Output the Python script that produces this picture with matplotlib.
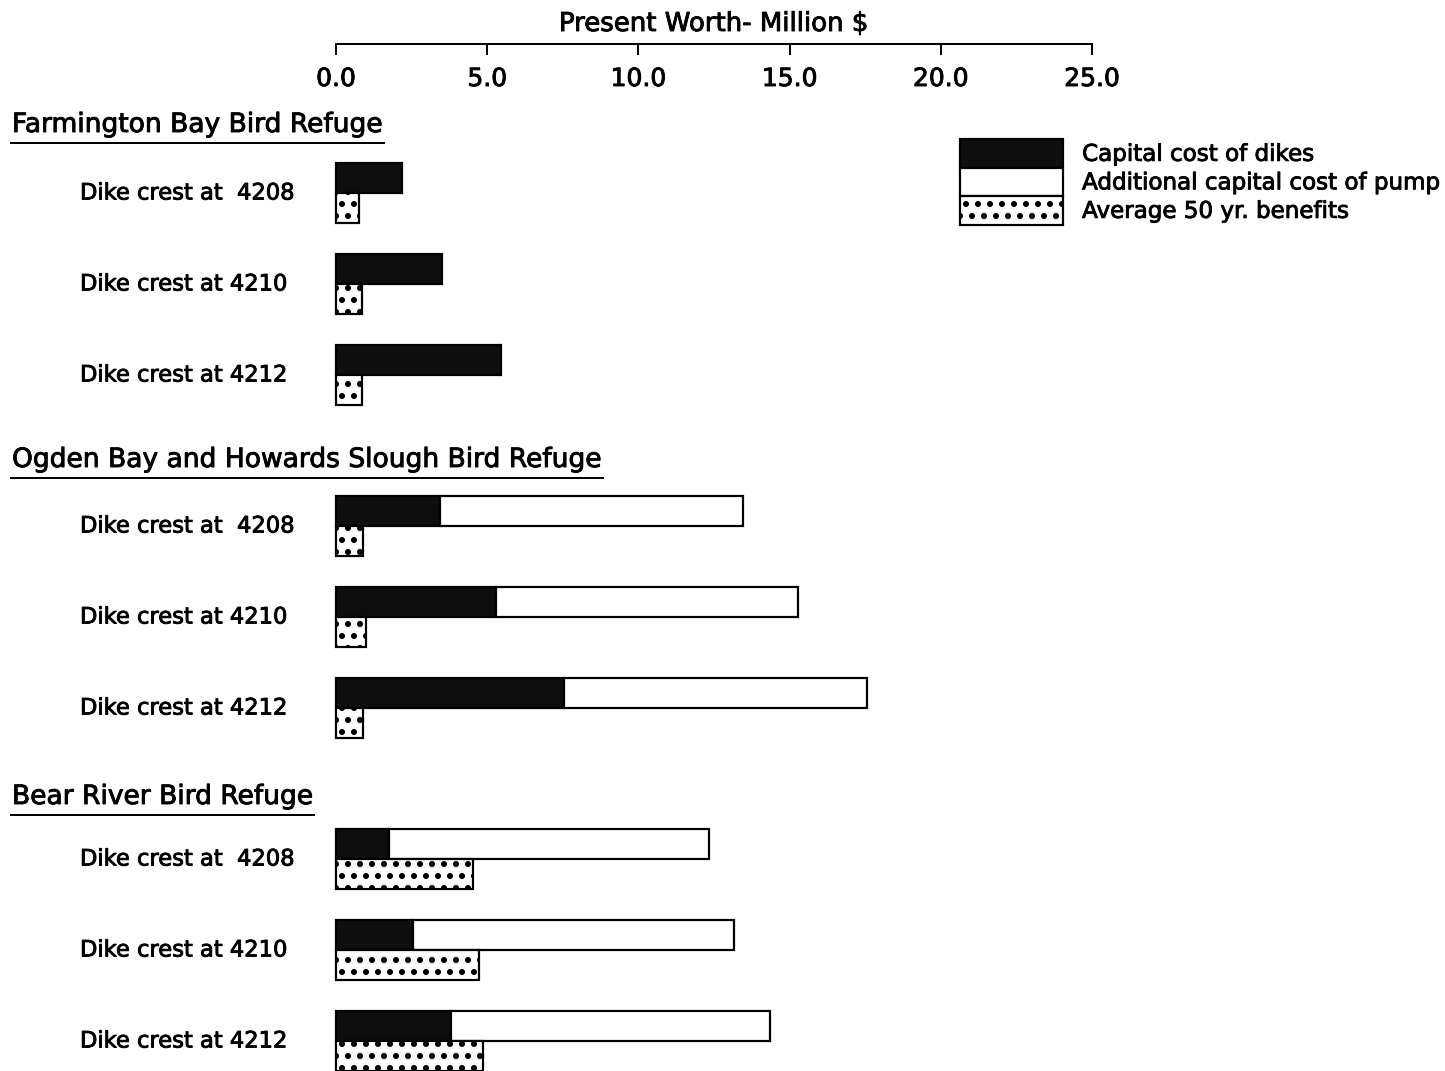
import matplotlib
matplotlib.use("Agg")
import matplotlib.pyplot as plt
import matplotlib.patheffects as pe

# ---- data (present worth, million $) ----
refuges = [
    "Farmington Bay Bird Refuge",
    "Ogden Bay and Howards Slough Bird Refuge",
    "Bear River Bird Refuge",
]
crests = ["Dike crest at  4208", "Dike crest at 4210", "Dike crest at 4212"]
dike_cost = [
    [2.17, 3.50, 5.46],
    [3.45, 5.29, 7.53],
    [1.76, 2.56, 3.80],
]
pump_cost = [
    [0.00, 0.00, 0.00],
    [10.02, 9.98, 10.04],
    [10.59, 10.61, 10.55],
]
benefits = [
    [0.77, 0.85, 0.87],
    [0.88, 1.00, 0.88],
    [4.54, 4.74, 4.87],
]
tick_values = [0, 5, 10, 15, 20, 25]
tick_labels = ["0.0", "5.0", "10.0", "15.0", "20.0", "25.0"]
series_labels = [
    "Capital cost of dikes",
    "Additional capital cost of pump",
    "Average 50 yr. benefits",
]
axis_title = "Present Worth- Million $"

# ---- figure geometry ----
W, H, DPI = 1445, 1071, 72
plt.rcParams["font.family"] = ["DejaVu Sans"]
plt.rcParams["hatch.linewidth"] = 3.6
plt.rcParams["hatch.color"] = "black"

# slightly heavier strokes for all lettering
heavy = [pe.withStroke(linewidth=0.9, foreground="black")]

fig = plt.figure(figsize=(W / DPI, H / DPI), dpi=DPI)
ax = fig.add_axes([0, 0, 1, 1])

X0_PX, X25_PX = 336, 1092
scale = (X25_PX - X0_PX) / 25.0


def px2x(px):
    return (px - X0_PX) / scale


ax.set_xlim(px2x(0), px2x(W))
ax.set_ylim(H, 0)

AXIS_Y = 44
FIRST_ROW = 163
ROW_PITCH = 91
GROUP_GAP = 60
BAR_H = 30
HEAD_OFFSET = [38, 36, 32]

dark = "#0e0e0e"
lw = 2.2
handles = [None, None, None]
headings = []

for g, name in enumerate(refuges):
    top0 = FIRST_ROW + g * (3 * ROW_PITCH + GROUP_GAP)
    ht = ax.text(px2x(12), top0 - HEAD_OFFSET[g], name, ha="left",
                 va="center", fontsize=26.5, color="black", path_effects=heavy)
    headings.append(ht)
    for r in range(3):
        top = top0 + r * ROW_PITCH
        b1 = ax.barh(top + BAR_H / 2, dike_cost[g][r], height=BAR_H, left=0,
                     color=dark, edgecolor="black", linewidth=lw)
        handles[0] = b1
        if pump_cost[g][r] > 0:
            b2 = ax.barh(top + BAR_H / 2, pump_cost[g][r], height=BAR_H,
                         left=dike_cost[g][r], color="white",
                         edgecolor="black", linewidth=lw)
            handles[1] = b2
        b3 = ax.barh(top + BAR_H + BAR_H / 2, benefits[g][r], height=BAR_H,
                     left=0, color="white", edgecolor="black", linewidth=lw,
                     hatch=".")
        handles[2] = b3
        ax.text(px2x(80), top + BAR_H, crests[r], ha="left", va="center",
                fontsize=22.6, color="black", path_effects=heavy)

# underline each refuge heading to the width of its text
fig.canvas.draw()
renderer = fig.canvas.get_renderer()
inv = ax.transData.inverted()
for t in headings:
    bb = t.get_window_extent(renderer)
    (xl, _), (xr, _) = inv.transform([(bb.x0 - 2, 0), (bb.x1 + 2, 0)])
    y_line = t.get_position()[1] + 18
    ax.plot([xl, xr], [y_line, y_line], color="black", linewidth=2.0,
            solid_capstyle="butt")

# value axis drawn across the top
for side in ["left", "right", "bottom"]:
    ax.spines[side].set_visible(False)
ax.spines["top"].set_position(("data", AXIS_Y))
ax.spines["top"].set_bounds(0, 25)
ax.spines["top"].set_linewidth(2.0)
ax.xaxis.set_ticks_position("top")
ax.set_xticks(tick_values)
ax.set_xticklabels(tick_labels)
ax.tick_params(axis="x", direction="in", length=11, width=2.0,
               labelsize=25, pad=-47)
for lab in ax.get_xticklabels():
    lab.set_path_effects(heavy)
ax.set_yticks([])
ax.text(12.5, 24, axis_title, ha="center", va="center", fontsize=26,
        path_effects=heavy)

fs_leg = 23
leg = ax.legend(handles=handles, labels=series_labels, loc="upper left",
                bbox_to_anchor=(960 / W, 1 - 139 / H),
                bbox_transform=fig.transFigure, frameon=False,
                borderpad=0, borderaxespad=0, handlelength=103 / fs_leg,
                handleheight=1.53, handletextpad=0.83, labelspacing=0,
                fontsize=fs_leg)
for txt in leg.get_texts():
    txt.set_path_effects(heavy)

fig.savefig("out.png", dpi=DPI, facecolor="white")
